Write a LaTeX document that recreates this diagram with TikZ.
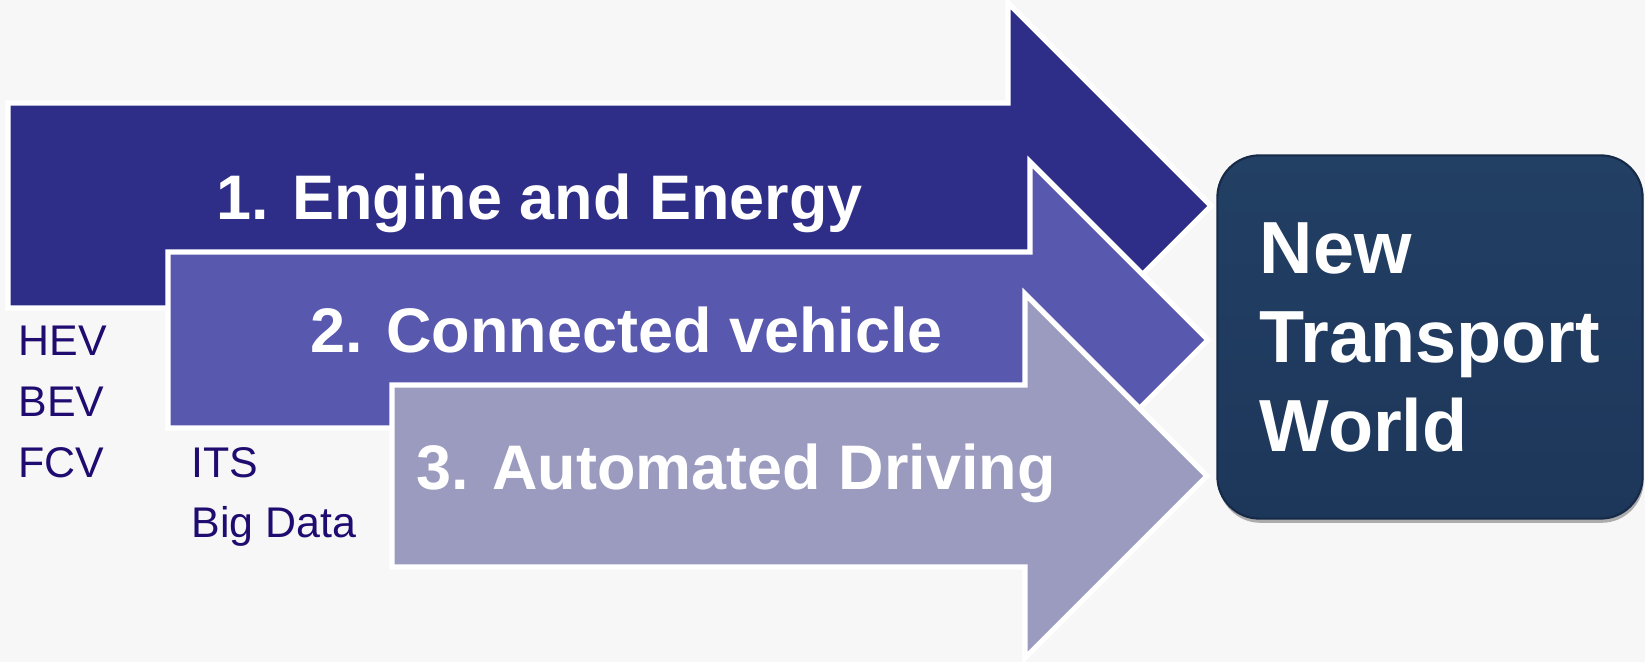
\documentclass[tikz,border=0pt]{standalone}
\usepackage{fontspec}
\setmainfont{Liberation Sans}
\usepackage{tikz}
\usetikzlibrary{shadows}

\definecolor{engine}{RGB}{46,46,136}
\definecolor{connect}{RGB}{88,88,174}
\definecolor{autodrv}{RGB}{155,155,192}
\definecolor{worldtop}{RGB}{34,63,100}
\definecolor{worldbot}{RGB}{29,55,90}
\definecolor{worldedge}{RGB}{22,42,72}
\definecolor{tagtext}{RGB}{32,12,112}
\definecolor{backgr}{RGB}{247,247,247}

\begin{document}
\begin{tikzpicture}[x=0.01cm, y=-0.01cm,
  band/.style={draw=white, line width=1.5pt, line join=miter},
  title/.style={anchor=base west, inner sep=0pt, text=white, font=\fontsize{17.9}{22}\selectfont\bfseries},
  tag/.style={anchor=base west, inner sep=0pt, text=tagtext, font=\fontsize{12.2}{15}\selectfont},
  worldbox/.style={rounded corners=0.42cm, minimum width=4.25cm, minimum height=3.63cm,
    draw=worldedge, line width=0.6pt, top color=worldtop, bottom color=worldbot,
    text=white, align=left, font=\fontsize{21}{25.3}\selectfont\bfseries,
    drop shadow={shadow xshift=0.3pt, shadow yshift=-1.2pt, opacity=0.3, fill=black}}]

\useasboundingbox (0,0) rectangle (1645,662);
\fill[backgr] (0,0) rectangle (1645,662);

% the three arrows, back to front
\draw[band, fill=engine] (8,103) -- (1008,103) -- (1008,3) -- (1211,206) -- (1008,409) -- (1008,308) -- (8,308) -- cycle;
\draw[band, fill=connect] (168,252) -- (1030,252) -- (1030,162) -- (1208,340) -- (1030,518) -- (1030,428) -- (168,428) -- cycle;
\draw[band, fill=autodrv] (392,385) -- (1025,385) -- (1025,294) -- (1207,476) -- (1025,658) -- (1025,567) -- (392,567) -- cycle;

\node[title] (engine) at (216,220) {1. Engine and Energy};
\node[title] (connected) at (310,353) {2. Connected vehicle};
\node[title] (automated) at (416,490) {3. Automated Driving};

\node[tag] (hev) at (18,356) {HEV};
\node[tag] (bev) at (18,417) {BEV};
\node[tag] (fcv) at (18,478) {FCV};
\node[tag] (its) at (191,478) {ITS};
\node[tag] (bigdata) at (191,538) {Big Data};

\node[worldbox] (world) at (1430,337) {New\\Transport\\World};

\end{tikzpicture}
\end{document}
